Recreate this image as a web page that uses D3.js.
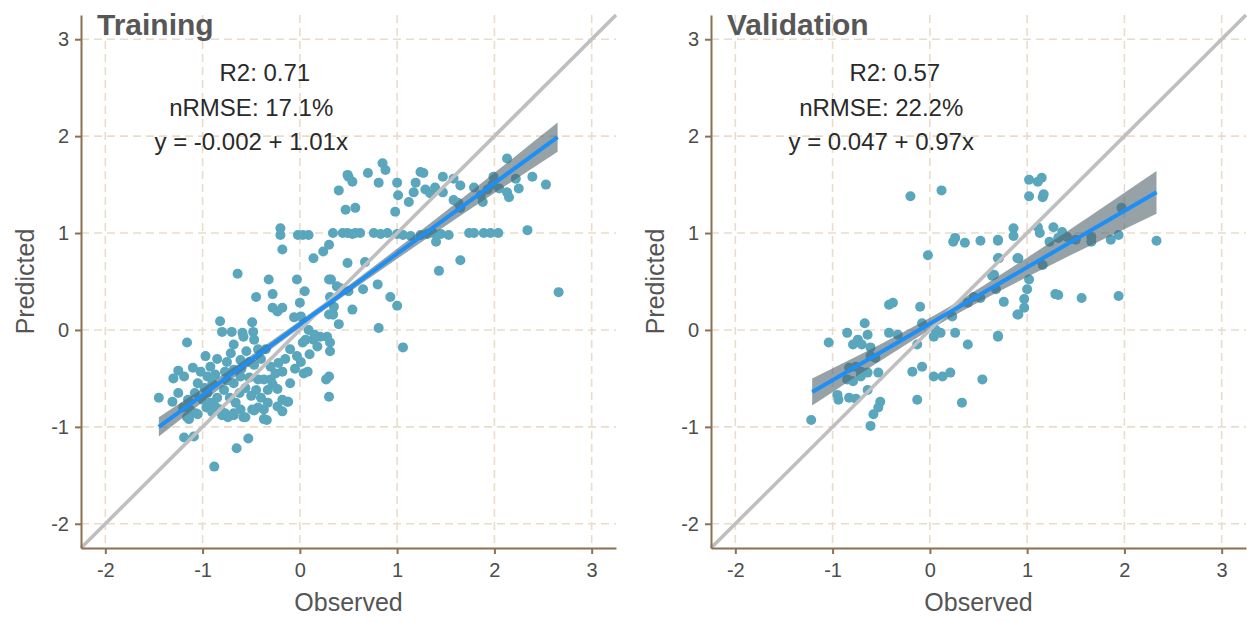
<!DOCTYPE html>
<html>
<head>
<meta charset="utf-8">
<script src="https://cdn.jsdelivr.net/npm/d3@7"></script>
<style>
body { margin: 0; background: #fff; }
text { font-family: "Liberation Sans", Arial, sans-serif; }
</style>
</head>
<body>
<svg id="chart" width="1247" height="622"></svg>
<script>
// axis ticks, shared by both panels
const tickVals = [-2, -1, 0, 1, 2, 3];
const axisDomain = [-2.25, 3.25];

// training set: [observed, predicted]
const trainPts = [
  [0.85,1.72],[0.88,1.65],[0.50,1.58],[0.54,1.53],[0.70,1.62],[0.81,1.52],[0.40,1.44],[0.49,1.60],
  [0.47,1.24],[0.57,1.26],[1.00,1.52],[1.01,1.39],[0.98,1.22],[1.12,1.32],[1.17,1.42],[1.19,1.52],
  [1.24,1.63],[1.27,1.62],[1.29,1.45],[1.34,1.41],[1.39,1.47],[1.47,1.58],[1.47,1.42],[1.58,1.56],
  [1.65,1.49],[1.58,1.34],[1.63,1.31],[1.65,1.26],[1.79,1.47],[1.86,1.39],[1.88,1.32],[1.93,1.45],
  [1.99,1.58],[1.98,1.50],[2.05,1.46],[2.13,1.42],[2.15,1.37],[2.13,1.77],[2.22,1.56],[2.25,1.46],
  [2.39,1.58],[2.53,1.50],
  [0.34,1.00],[0.44,1.00],[0.49,1.00],[0.54,0.99],[0.62,1.00],[0.76,1.00],[0.83,0.99],[0.90,1.00],
  [1.00,0.99],[1.06,0.98],[1.14,0.97],[1.24,0.98],[1.31,0.99],[1.37,1.00],[1.45,0.99],[1.53,0.98],
  [1.74,1.00],[1.79,1.00],[1.89,1.00],[1.96,1.00],[2.04,1.00],[2.34,1.03],[-0.20,1.05],[-0.20,0.98],
  [-0.02,0.98],[0.03,0.98],[0.09,0.98],[0.57,1.00],
  [1.40,0.91],[1.65,0.72],[1.43,0.61],[0.49,0.69],[0.67,0.70],[0.32,0.52],[0.38,0.45],[0.50,0.40],
  [0.65,0.42],[0.80,0.47],[0.93,0.34],[1.00,0.25],[0.34,0.16],[0.40,0.06],[0.54,0.21],[0.81,0.02],
  [2.66,0.39],[1.06,-0.18],[-0.18,0.83],[0.14,0.74],[0.24,0.81],[0.30,0.88],
  [-0.64,0.58],[-0.32,0.52],[-0.03,0.52],[0.30,0.52],[-0.28,0.37],[0.05,0.40],[-0.45,0.34],[0.00,0.28],
  [-0.28,0.23],[-0.23,0.19],[-0.18,0.23],[-0.06,0.13],[0.01,0.14],[0.31,0.34],[0.35,0.24],[0.42,0.43],
  [0.30,0.16],[0.34,0.16],[0.09,0.00],
  [-0.82,0.09],[-0.49,0.08],[-0.80,-0.02],[-0.70,-0.02],[-0.59,-0.03],[-0.48,-0.02],[-1.16,-0.13],[-0.97,-0.27],
  [-0.71,-0.24],[-0.68,-0.15],[-0.58,-0.07],[-0.47,-0.10],[-0.43,-0.20],[-0.35,-0.20],[-1.19,-0.48],[-1.10,-0.39],
  [-1.02,-0.43],[-0.92,-0.38],[-1.05,-0.55],[-0.87,-0.46],[-0.77,-0.43],[-0.68,-0.41],[-0.61,-0.31],[-0.52,-0.33],
  [-0.47,-0.36],[-0.61,-0.48],[-0.52,-0.49],[-0.43,-0.51],[-0.37,-0.51],[-0.30,-0.51],[-0.22,-0.34],[-0.18,-0.43],
  [-0.10,-0.55],[-0.23,-0.61],[-0.18,-0.72],[-0.12,-0.74],[-0.33,-0.75],[-0.37,-0.82],[-0.03,-0.27],[0.01,-0.33],
  [0.03,-0.13],[0.06,-0.10],[0.04,-0.45],[0.08,-0.43],[0.14,-0.10],[0.18,-0.17],[0.21,-0.07],[0.28,-0.07],
  [0.31,-0.13],[0.31,-0.22],[0.27,-0.51],[0.30,-0.48],[0.30,-0.69],[-1.45,-0.70],[-1.31,-0.74],[-1.15,-0.72],
  [-1.13,-0.82],[-1.07,-0.86],[-1.16,-0.90],[-0.95,-0.65],[-0.92,-0.75],[-0.87,-0.79],[-0.82,-0.82],[-0.77,-0.86],
  [-0.74,-0.90],[-0.68,-0.86],[-0.61,-0.82],[-0.58,-0.90],[-0.49,-0.82],[-0.43,-0.80],[-0.37,-0.92],[-1.19,-1.11],
  [-1.09,-1.10],[-0.53,-1.12],[-0.65,-1.22],[-0.88,-1.41],[-0.23,-0.79],[-0.18,-0.84],[-1.14,-0.92],[-1.05,-0.87],
  [-0.80,-0.88],[-0.68,-0.88],[-0.56,-0.90],[-0.47,-0.83],[-0.34,-0.93],[-0.13,-0.74],[-1.30,-0.50],[-1.25,-0.42],
  [-0.90,-0.55],[-0.98,-0.60],
  [-1.00,-0.72],[-0.96,-0.80],[-0.90,-0.85],[-0.85,-0.70],[-0.78,-0.62],[-0.72,-0.70],[-0.66,-0.75],[-0.62,-0.65],
  [-0.56,-0.60],[-0.50,-0.68],[-0.45,-0.62],[-0.40,-0.70],[-0.33,-0.62],[-0.28,-0.56],[-0.25,-0.45],[-0.15,-0.30],
  [-0.10,-0.20],[-0.05,-0.40],[0.10,-0.25],[0.15,-0.05],[-0.75,-0.52],[-0.68,-0.55],[-0.60,-0.40],[-0.55,-0.22],
  [-0.40,-0.30],[-0.30,-0.38],[-0.85,-0.30],[-0.75,-0.33],[-1.08,-0.65],[-1.20,-0.80],[-1.25,-0.65],[-0.95,-0.48]
];

// validation set: [observed, predicted]
const validPts = [
  [-0.20,1.38],[0.12,1.44],[0.26,0.95],[0.24,0.91],[0.36,0.90],[0.52,0.92],[0.70,0.92],[0.86,1.05],
  [0.86,0.97],[-0.02,0.77],[0.70,0.74],[0.90,0.74],[0.64,0.56],[0.68,0.42],[0.76,0.29],[0.90,0.16],
  [0.45,0.34],[0.52,0.33],[0.39,0.28],[-0.42,0.26],[-0.38,0.28],[-0.10,0.24],[-0.67,0.07],[-0.85,-0.03],
  [-0.74,-0.10],[-0.64,-0.05],[-0.70,-0.15],[-0.79,-0.15],[-0.61,-0.18],[-1.04,-0.13],[-0.42,-0.03],[-0.33,-0.05],
  [-0.08,0.07],[-0.13,-0.15],[0.04,-0.07],[0.11,-0.03],[0.06,0.00],[0.23,0.14],[0.26,-0.03],[0.39,-0.15],
  [0.70,-0.07],[-0.61,-0.27],[-0.56,-0.29],[-0.53,-0.44],[-0.83,-0.39],[-0.76,-0.38],[-0.71,-0.43],[-0.85,-0.51],
  [-0.79,-0.53],[-0.71,-0.48],[-0.64,-0.44],[-0.18,-0.43],[-0.08,-0.38],[0.04,-0.48],[0.13,-0.48],[0.21,-0.44],
  [0.54,-0.51],[-0.95,-0.67],[-0.94,-0.72],[-0.83,-0.70],[-0.76,-0.71],[-0.64,-0.62],[-0.13,-0.72],[0.33,-0.75],
  [-0.51,-0.74],[-0.53,-0.80],[-0.58,-0.87],[-0.61,-0.99],[-1.22,-0.93],
  [1.02,1.55],[1.11,1.53],[1.15,1.57],[1.02,1.38],[1.16,1.37],[1.17,1.40],[1.11,1.06],[1.13,1.00],
  [1.27,1.06],[1.36,1.01],[1.41,0.96],[1.50,0.93],[0.70,0.93],[1.23,0.91],[1.32,0.95],[1.66,0.96],
  [1.66,0.91],[1.86,0.93],[1.94,0.98],[1.97,1.26],[2.33,0.92],[0.71,0.74],[0.91,0.74],[1.16,0.67],
  [0.66,0.57],[1.02,0.52],[1.00,0.42],[0.97,0.32],[0.97,0.23],[0.91,0.16],[1.29,0.37],[1.32,0.36],
  [1.56,0.33],[1.94,0.35],[0.70,-0.06]
];

// fitted line end points and confidence band half widths
const trainFitX = [-1.45, 2.65];
const trainFitY = [-1.00, 1.99];
const trainBandX = [-1.45, -0.6, 0.3, 1.4, 2.65];
const trainBandHalf = [0.10, 0.05, 0.035, 0.07, 0.15];

const validFitX = [-1.21, 2.33];
const validFitY = [-0.64, 1.42];
const validBandX = [-1.21, -0.3, 0.2, 1.0, 2.33];
const validBandHalf = [0.14, 0.075, 0.06, 0.10, 0.22];

const trainStats = ["R2: 0.71", "nRMSE: 17.1%", "y = -0.002 + 1.01x"];
const validStats = ["R2: 0.57", "nRMSE: 22.2%", "y = 0.047 + 0.97x"];
const statsX = [-0.36, -0.5, -0.5];
const statsY = [2.57, 2.21, 1.86];

const svg = d3.select("#chart");
const axisCol = "#8c7052";
const plotTop = 15, plotBottom = 548;

const panels = [
  {title: "Training", pts: trainPts, fitX: trainFitX, fitY: trainFitY, bandX: trainBandX, bandHalf: trainBandHalf, stats: trainStats, left: 81, right: 616, ylab: 34},
  {title: "Validation", pts: validPts, fitX: validFitX, fitY: validFitY, bandX: validBandX, bandHalf: validBandHalf, stats: validStats, left: 711, right: 1246, ylab: 664}
];

panels.forEach(p => {
  const x = d3.scaleLinear(axisDomain, [p.left, p.right]);
  const y = d3.scaleLinear(axisDomain, [plotBottom, plotTop]);
  const g = svg.append("g");

  // grid
  g.append("g").selectAll("line").data(tickVals).join("line")
    .attr("x1", d => x(d)).attr("x2", d => x(d))
    .attr("y1", plotTop).attr("y2", plotBottom)
    .attr("stroke", "#eadccb").attr("stroke-width", 1.6).attr("stroke-dasharray", "8,5");
  g.append("g").selectAll("line").data(tickVals).join("line")
    .attr("y1", d => y(d)).attr("y2", d => y(d))
    .attr("x1", p.left).attr("x2", p.right)
    .attr("stroke", "#eadccb").attr("stroke-width", 1.6).attr("stroke-dasharray", "8,5");

  // points
  g.append("g").selectAll("circle").data(p.pts).join("circle")
    .attr("cx", d => x(d[0])).attr("cy", d => y(d[1]))
    .attr("r", 5).attr("fill", "#59a6bd");

  // confidence band and fit
  const slope = (p.fitY[1] - p.fitY[0]) / (p.fitX[1] - p.fitX[0]);
  const fit = v => p.fitY[0] + slope * (v - p.fitX[0]);
  const band = p.bandX.map((v, i) => ({x: v, lo: fit(v) - p.bandHalf[i], hi: fit(v) + p.bandHalf[i]}));
  g.append("path").datum(band)
    .attr("fill", "#52646a").attr("fill-opacity", 0.6)
    .attr("d", d3.area().x(d => x(d.x)).y0(d => y(d.lo)).y1(d => y(d.hi)).curve(d3.curveMonotoneX));

  // 1:1 line
  g.append("line")
    .attr("x1", x(axisDomain[0])).attr("y1", y(axisDomain[0]))
    .attr("x2", x(axisDomain[1])).attr("y2", y(axisDomain[1]))
    .attr("stroke", "#bfbfbf").attr("stroke-width", 3.6);

  g.append("line")
    .attr("x1", x(p.fitX[0])).attr("y1", y(p.fitY[0]))
    .attr("x2", x(p.fitX[1])).attr("y2", y(p.fitY[1]))
    .attr("stroke", "#1e8ff5").attr("stroke-width", 4);

  // axes
  const ax = g.append("g").attr("transform", `translate(${p.left},0)`)
    .call(d3.axisLeft(y).tickValues(tickVals).tickFormat(d => String(d)).tickSize(6).tickPadding(6).tickSizeOuter(0));
  const bx = g.append("g").attr("transform", `translate(0,${plotBottom})`)
    .call(d3.axisBottom(x).tickValues(tickVals).tickFormat(d => String(d)).tickSize(6).tickPadding(9).tickSizeOuter(0));
  [ax, bx].forEach(a => {
    a.select(".domain").attr("stroke", axisCol).attr("stroke-width", 2);
    a.selectAll(".tick line").attr("stroke", axisCol).attr("stroke-width", 2);
    a.selectAll(".tick text").attr("fill", "#4d4d4d").style("font-size", "20px")
      .style("font-family", "'Liberation Sans', Arial, sans-serif");
  });

  // axis titles
  g.append("text").attr("x", (p.left + p.right) / 2).attr("y", 611)
    .attr("text-anchor", "middle").attr("fill", "#555").style("font-size", "25px").text("Observed");
  g.append("text").attr("transform", `translate(${p.ylab},${(plotTop + plotBottom) / 2}) rotate(-90)`)
    .attr("text-anchor", "middle").attr("fill", "#555").style("font-size", "25px").text("Predicted");

  // panel title
  g.append("text").attr("x", p.left + 16).attr("y", 35)
    .attr("fill", "#575757").style("font-size", "30px").style("font-weight", "bold").text(p.title);

  // statistics
  g.append("g").selectAll("text").data(p.stats).join("text")
    .attr("x", (d, i) => x(statsX[i])).attr("y", (d, i) => y(statsY[i]))
    .attr("text-anchor", "middle").attr("fill", "#2a2a2a").style("font-size", "24px")
    .text(d => d);
});
</script>
</body>
</html>
